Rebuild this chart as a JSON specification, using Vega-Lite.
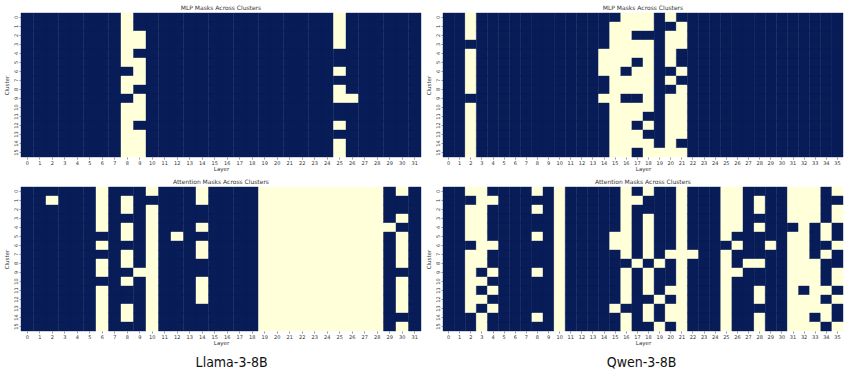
{
"$schema": "https://vega.github.io/schema/vega-lite/v6.json",
"background": "white",
"padding": {"left": 4, "top": 4, "right": 0, "bottom": 0},
"config": {
"view": {"stroke": null},
"font": "DejaVu Sans",
"axis": {"domain": false, "labelFontSize": 5, "titleFontSize": 5.5, "labelColor": "#333333", "titleColor": "#333333", "tickColor": "#333333", "tickSize": 2, "tickWidth": 0.5, "labelPadding": 1, "titleFontWeight": "normal", "labelOverlap": false, "minExtent": 0},
"axisX": {"labelAngle": 0, "titlePadding": 1, "maxExtent": 9},
"axisY": {"labelAngle": 270, "titlePadding": 4, "maxExtent": 8},
"title": {"fontSize": 6, "fontWeight": "normal", "color": "#333333", "offset": 2, "frame": "group", "anchor": "middle"}
},
"datasets": {
"lm": [
{"l":0,"c":0,"v":0},{"l":0,"c":1,"v":0},{"l":0,"c":2,"v":0},{"l":0,"c":3,"v":0},{"l":0,"c":4,"v":0},{"l":0,"c":5,"v":0},{"l":0,"c":6,"v":0},{"l":0,"c":7,"v":0},{"l":0,"c":8,"v":0},{"l":0,"c":9,"v":0},{"l":0,"c":10,"v":0},{"l":0,"c":11,"v":0},{"l":0,"c":12,"v":0},{"l":0,"c":13,"v":0},{"l":0,"c":14,"v":0},{"l":0,"c":15,"v":0},
{"l":1,"c":0,"v":0},{"l":1,"c":1,"v":0},{"l":1,"c":2,"v":0},{"l":1,"c":3,"v":0},{"l":1,"c":4,"v":0},{"l":1,"c":5,"v":0},{"l":1,"c":6,"v":0},{"l":1,"c":7,"v":0},{"l":1,"c":8,"v":0},{"l":1,"c":9,"v":0},{"l":1,"c":10,"v":0},{"l":1,"c":11,"v":0},{"l":1,"c":12,"v":0},{"l":1,"c":13,"v":0},{"l":1,"c":14,"v":0},{"l":1,"c":15,"v":0},
{"l":2,"c":0,"v":0},{"l":2,"c":1,"v":0},{"l":2,"c":2,"v":0},{"l":2,"c":3,"v":0},{"l":2,"c":4,"v":0},{"l":2,"c":5,"v":0},{"l":2,"c":6,"v":0},{"l":2,"c":7,"v":0},{"l":2,"c":8,"v":0},{"l":2,"c":9,"v":0},{"l":2,"c":10,"v":0},{"l":2,"c":11,"v":0},{"l":2,"c":12,"v":0},{"l":2,"c":13,"v":0},{"l":2,"c":14,"v":0},{"l":2,"c":15,"v":0},
{"l":3,"c":0,"v":0},{"l":3,"c":1,"v":0},{"l":3,"c":2,"v":0},{"l":3,"c":3,"v":0},{"l":3,"c":4,"v":0},{"l":3,"c":5,"v":0},{"l":3,"c":6,"v":0},{"l":3,"c":7,"v":0},{"l":3,"c":8,"v":0},{"l":3,"c":9,"v":0},{"l":3,"c":10,"v":0},{"l":3,"c":11,"v":0},{"l":3,"c":12,"v":0},{"l":3,"c":13,"v":0},{"l":3,"c":14,"v":0},{"l":3,"c":15,"v":0},
{"l":4,"c":0,"v":0},{"l":4,"c":1,"v":0},{"l":4,"c":2,"v":0},{"l":4,"c":3,"v":0},{"l":4,"c":4,"v":0},{"l":4,"c":5,"v":0},{"l":4,"c":6,"v":0},{"l":4,"c":7,"v":0},{"l":4,"c":8,"v":0},{"l":4,"c":9,"v":0},{"l":4,"c":10,"v":0},{"l":4,"c":11,"v":0},{"l":4,"c":12,"v":0},{"l":4,"c":13,"v":0},{"l":4,"c":14,"v":0},{"l":4,"c":15,"v":0},
{"l":5,"c":0,"v":0},{"l":5,"c":1,"v":0},{"l":5,"c":2,"v":0},{"l":5,"c":3,"v":0},{"l":5,"c":4,"v":0},{"l":5,"c":5,"v":0},{"l":5,"c":6,"v":0},{"l":5,"c":7,"v":0},{"l":5,"c":8,"v":0},{"l":5,"c":9,"v":0},{"l":5,"c":10,"v":0},{"l":5,"c":11,"v":0},{"l":5,"c":12,"v":0},{"l":5,"c":13,"v":0},{"l":5,"c":14,"v":0},{"l":5,"c":15,"v":0},
{"l":6,"c":0,"v":0},{"l":6,"c":1,"v":0},{"l":6,"c":2,"v":0},{"l":6,"c":3,"v":0},{"l":6,"c":4,"v":0},{"l":6,"c":5,"v":0},{"l":6,"c":6,"v":0},{"l":6,"c":7,"v":0},{"l":6,"c":8,"v":0},{"l":6,"c":9,"v":0},{"l":6,"c":10,"v":0},{"l":6,"c":11,"v":0},{"l":6,"c":12,"v":0},{"l":6,"c":13,"v":0},{"l":6,"c":14,"v":0},{"l":6,"c":15,"v":0},
{"l":7,"c":0,"v":0},{"l":7,"c":1,"v":0},{"l":7,"c":2,"v":0},{"l":7,"c":3,"v":0},{"l":7,"c":4,"v":0},{"l":7,"c":5,"v":0},{"l":7,"c":6,"v":0},{"l":7,"c":7,"v":0},{"l":7,"c":8,"v":0},{"l":7,"c":9,"v":0},{"l":7,"c":10,"v":0},{"l":7,"c":11,"v":0},{"l":7,"c":12,"v":0},{"l":7,"c":13,"v":0},{"l":7,"c":14,"v":0},{"l":7,"c":15,"v":0},
{"l":8,"c":0,"v":1},{"l":8,"c":1,"v":1},{"l":8,"c":2,"v":1},{"l":8,"c":3,"v":1},{"l":8,"c":4,"v":1},{"l":8,"c":5,"v":1},{"l":8,"c":6,"v":0},{"l":8,"c":7,"v":1},{"l":8,"c":8,"v":1},{"l":8,"c":9,"v":0},{"l":8,"c":10,"v":1},{"l":8,"c":11,"v":1},{"l":8,"c":12,"v":1},{"l":8,"c":13,"v":1},{"l":8,"c":14,"v":1},{"l":8,"c":15,"v":1},
{"l":9,"c":0,"v":0},{"l":9,"c":1,"v":0},{"l":9,"c":2,"v":1},{"l":9,"c":3,"v":1},{"l":9,"c":4,"v":0},{"l":9,"c":5,"v":1},{"l":9,"c":6,"v":1},{"l":9,"c":7,"v":1},{"l":9,"c":8,"v":0},{"l":9,"c":9,"v":1},{"l":9,"c":10,"v":1},{"l":9,"c":11,"v":1},{"l":9,"c":12,"v":0},{"l":9,"c":13,"v":1},{"l":9,"c":14,"v":1},{"l":9,"c":15,"v":1},
{"l":10,"c":0,"v":0},{"l":10,"c":1,"v":0},{"l":10,"c":2,"v":0},{"l":10,"c":3,"v":0},{"l":10,"c":4,"v":0},{"l":10,"c":5,"v":0},{"l":10,"c":6,"v":0},{"l":10,"c":7,"v":0},{"l":10,"c":8,"v":0},{"l":10,"c":9,"v":0},{"l":10,"c":10,"v":0},{"l":10,"c":11,"v":0},{"l":10,"c":12,"v":0},{"l":10,"c":13,"v":0},{"l":10,"c":14,"v":0},{"l":10,"c":15,"v":0},
{"l":11,"c":0,"v":0},{"l":11,"c":1,"v":0},{"l":11,"c":2,"v":0},{"l":11,"c":3,"v":0},{"l":11,"c":4,"v":0},{"l":11,"c":5,"v":0},{"l":11,"c":6,"v":0},{"l":11,"c":7,"v":0},{"l":11,"c":8,"v":0},{"l":11,"c":9,"v":0},{"l":11,"c":10,"v":0},{"l":11,"c":11,"v":0},{"l":11,"c":12,"v":0},{"l":11,"c":13,"v":0},{"l":11,"c":14,"v":0},{"l":11,"c":15,"v":0},
{"l":12,"c":0,"v":0},{"l":12,"c":1,"v":0},{"l":12,"c":2,"v":0},{"l":12,"c":3,"v":0},{"l":12,"c":4,"v":0},{"l":12,"c":5,"v":0},{"l":12,"c":6,"v":0},{"l":12,"c":7,"v":0},{"l":12,"c":8,"v":0},{"l":12,"c":9,"v":0},{"l":12,"c":10,"v":0},{"l":12,"c":11,"v":0},{"l":12,"c":12,"v":0},{"l":12,"c":13,"v":0},{"l":12,"c":14,"v":0},{"l":12,"c":15,"v":0},
{"l":13,"c":0,"v":0},{"l":13,"c":1,"v":0},{"l":13,"c":2,"v":0},{"l":13,"c":3,"v":0},{"l":13,"c":4,"v":0},{"l":13,"c":5,"v":0},{"l":13,"c":6,"v":0},{"l":13,"c":7,"v":0},{"l":13,"c":8,"v":0},{"l":13,"c":9,"v":0},{"l":13,"c":10,"v":0},{"l":13,"c":11,"v":0},{"l":13,"c":12,"v":0},{"l":13,"c":13,"v":0},{"l":13,"c":14,"v":0},{"l":13,"c":15,"v":0},
{"l":14,"c":0,"v":0},{"l":14,"c":1,"v":0},{"l":14,"c":2,"v":0},{"l":14,"c":3,"v":0},{"l":14,"c":4,"v":0},{"l":14,"c":5,"v":0},{"l":14,"c":6,"v":0},{"l":14,"c":7,"v":0},{"l":14,"c":8,"v":0},{"l":14,"c":9,"v":0},{"l":14,"c":10,"v":0},{"l":14,"c":11,"v":0},{"l":14,"c":12,"v":0},{"l":14,"c":13,"v":0},{"l":14,"c":14,"v":0},{"l":14,"c":15,"v":0},
{"l":15,"c":0,"v":0},{"l":15,"c":1,"v":0},{"l":15,"c":2,"v":0},{"l":15,"c":3,"v":0},{"l":15,"c":4,"v":0},{"l":15,"c":5,"v":0},{"l":15,"c":6,"v":0},{"l":15,"c":7,"v":0},{"l":15,"c":8,"v":0},{"l":15,"c":9,"v":0},{"l":15,"c":10,"v":0},{"l":15,"c":11,"v":0},{"l":15,"c":12,"v":0},{"l":15,"c":13,"v":0},{"l":15,"c":14,"v":0},{"l":15,"c":15,"v":0},
{"l":16,"c":0,"v":0},{"l":16,"c":1,"v":0},{"l":16,"c":2,"v":0},{"l":16,"c":3,"v":0},{"l":16,"c":4,"v":0},{"l":16,"c":5,"v":0},{"l":16,"c":6,"v":0},{"l":16,"c":7,"v":0},{"l":16,"c":8,"v":0},{"l":16,"c":9,"v":0},{"l":16,"c":10,"v":0},{"l":16,"c":11,"v":0},{"l":16,"c":12,"v":0},{"l":16,"c":13,"v":0},{"l":16,"c":14,"v":0},{"l":16,"c":15,"v":0},
{"l":17,"c":0,"v":0},{"l":17,"c":1,"v":0},{"l":17,"c":2,"v":0},{"l":17,"c":3,"v":0},{"l":17,"c":4,"v":0},{"l":17,"c":5,"v":0},{"l":17,"c":6,"v":0},{"l":17,"c":7,"v":0},{"l":17,"c":8,"v":0},{"l":17,"c":9,"v":0},{"l":17,"c":10,"v":0},{"l":17,"c":11,"v":0},{"l":17,"c":12,"v":0},{"l":17,"c":13,"v":0},{"l":17,"c":14,"v":0},{"l":17,"c":15,"v":0},
{"l":18,"c":0,"v":0},{"l":18,"c":1,"v":0},{"l":18,"c":2,"v":0},{"l":18,"c":3,"v":0},{"l":18,"c":4,"v":0},{"l":18,"c":5,"v":0},{"l":18,"c":6,"v":0},{"l":18,"c":7,"v":0},{"l":18,"c":8,"v":0},{"l":18,"c":9,"v":0},{"l":18,"c":10,"v":0},{"l":18,"c":11,"v":0},{"l":18,"c":12,"v":0},{"l":18,"c":13,"v":0},{"l":18,"c":14,"v":0},{"l":18,"c":15,"v":0},
{"l":19,"c":0,"v":0},{"l":19,"c":1,"v":0},{"l":19,"c":2,"v":0},{"l":19,"c":3,"v":0},{"l":19,"c":4,"v":0},{"l":19,"c":5,"v":0},{"l":19,"c":6,"v":0},{"l":19,"c":7,"v":0},{"l":19,"c":8,"v":0},{"l":19,"c":9,"v":0},{"l":19,"c":10,"v":0},{"l":19,"c":11,"v":0},{"l":19,"c":12,"v":0},{"l":19,"c":13,"v":0},{"l":19,"c":14,"v":0},{"l":19,"c":15,"v":0},
{"l":20,"c":0,"v":0},{"l":20,"c":1,"v":0},{"l":20,"c":2,"v":0},{"l":20,"c":3,"v":0},{"l":20,"c":4,"v":0},{"l":20,"c":5,"v":0},{"l":20,"c":6,"v":0},{"l":20,"c":7,"v":0},{"l":20,"c":8,"v":0},{"l":20,"c":9,"v":0},{"l":20,"c":10,"v":0},{"l":20,"c":11,"v":0},{"l":20,"c":12,"v":0},{"l":20,"c":13,"v":0},{"l":20,"c":14,"v":0},{"l":20,"c":15,"v":0},
{"l":21,"c":0,"v":0},{"l":21,"c":1,"v":0},{"l":21,"c":2,"v":0},{"l":21,"c":3,"v":0},{"l":21,"c":4,"v":0},{"l":21,"c":5,"v":0},{"l":21,"c":6,"v":0},{"l":21,"c":7,"v":0},{"l":21,"c":8,"v":0},{"l":21,"c":9,"v":0},{"l":21,"c":10,"v":0},{"l":21,"c":11,"v":0},{"l":21,"c":12,"v":0},{"l":21,"c":13,"v":0},{"l":21,"c":14,"v":0},{"l":21,"c":15,"v":0},
{"l":22,"c":0,"v":0},{"l":22,"c":1,"v":0},{"l":22,"c":2,"v":0},{"l":22,"c":3,"v":0},{"l":22,"c":4,"v":0},{"l":22,"c":5,"v":0},{"l":22,"c":6,"v":0},{"l":22,"c":7,"v":0},{"l":22,"c":8,"v":0},{"l":22,"c":9,"v":0},{"l":22,"c":10,"v":0},{"l":22,"c":11,"v":0},{"l":22,"c":12,"v":0},{"l":22,"c":13,"v":0},{"l":22,"c":14,"v":0},{"l":22,"c":15,"v":0},
{"l":23,"c":0,"v":0},{"l":23,"c":1,"v":0},{"l":23,"c":2,"v":0},{"l":23,"c":3,"v":0},{"l":23,"c":4,"v":0},{"l":23,"c":5,"v":0},{"l":23,"c":6,"v":0},{"l":23,"c":7,"v":0},{"l":23,"c":8,"v":0},{"l":23,"c":9,"v":0},{"l":23,"c":10,"v":0},{"l":23,"c":11,"v":0},{"l":23,"c":12,"v":0},{"l":23,"c":13,"v":0},{"l":23,"c":14,"v":0},{"l":23,"c":15,"v":0},
{"l":24,"c":0,"v":0},{"l":24,"c":1,"v":0},{"l":24,"c":2,"v":0},{"l":24,"c":3,"v":0},{"l":24,"c":4,"v":0},{"l":24,"c":5,"v":0},{"l":24,"c":6,"v":0},{"l":24,"c":7,"v":0},{"l":24,"c":8,"v":0},{"l":24,"c":9,"v":0},{"l":24,"c":10,"v":0},{"l":24,"c":11,"v":0},{"l":24,"c":12,"v":0},{"l":24,"c":13,"v":0},{"l":24,"c":14,"v":0},{"l":24,"c":15,"v":0},
{"l":25,"c":0,"v":1},{"l":25,"c":1,"v":1},{"l":25,"c":2,"v":1},{"l":25,"c":3,"v":1},{"l":25,"c":4,"v":0},{"l":25,"c":5,"v":0},{"l":25,"c":6,"v":1},{"l":25,"c":7,"v":0},{"l":25,"c":8,"v":1},{"l":25,"c":9,"v":1},{"l":25,"c":10,"v":0},{"l":25,"c":11,"v":0},{"l":25,"c":12,"v":1},{"l":25,"c":13,"v":0},{"l":25,"c":14,"v":1},{"l":25,"c":15,"v":1},
{"l":26,"c":0,"v":0},{"l":26,"c":1,"v":0},{"l":26,"c":2,"v":0},{"l":26,"c":3,"v":0},{"l":26,"c":4,"v":0},{"l":26,"c":5,"v":0},{"l":26,"c":6,"v":0},{"l":26,"c":7,"v":0},{"l":26,"c":8,"v":0},{"l":26,"c":9,"v":1},{"l":26,"c":10,"v":0},{"l":26,"c":11,"v":0},{"l":26,"c":12,"v":0},{"l":26,"c":13,"v":0},{"l":26,"c":14,"v":0},{"l":26,"c":15,"v":0},
{"l":27,"c":0,"v":0},{"l":27,"c":1,"v":0},{"l":27,"c":2,"v":0},{"l":27,"c":3,"v":0},{"l":27,"c":4,"v":0},{"l":27,"c":5,"v":0},{"l":27,"c":6,"v":0},{"l":27,"c":7,"v":0},{"l":27,"c":8,"v":0},{"l":27,"c":9,"v":0},{"l":27,"c":10,"v":0},{"l":27,"c":11,"v":0},{"l":27,"c":12,"v":0},{"l":27,"c":13,"v":0},{"l":27,"c":14,"v":0},{"l":27,"c":15,"v":0},
{"l":28,"c":0,"v":0},{"l":28,"c":1,"v":0},{"l":28,"c":2,"v":0},{"l":28,"c":3,"v":0},{"l":28,"c":4,"v":0},{"l":28,"c":5,"v":0},{"l":28,"c":6,"v":0},{"l":28,"c":7,"v":0},{"l":28,"c":8,"v":0},{"l":28,"c":9,"v":0},{"l":28,"c":10,"v":0},{"l":28,"c":11,"v":0},{"l":28,"c":12,"v":0},{"l":28,"c":13,"v":0},{"l":28,"c":14,"v":0},{"l":28,"c":15,"v":0},
{"l":29,"c":0,"v":0},{"l":29,"c":1,"v":0},{"l":29,"c":2,"v":0},{"l":29,"c":3,"v":0},{"l":29,"c":4,"v":0},{"l":29,"c":5,"v":0},{"l":29,"c":6,"v":0},{"l":29,"c":7,"v":0},{"l":29,"c":8,"v":0},{"l":29,"c":9,"v":0},{"l":29,"c":10,"v":0},{"l":29,"c":11,"v":0},{"l":29,"c":12,"v":0},{"l":29,"c":13,"v":0},{"l":29,"c":14,"v":0},{"l":29,"c":15,"v":0},
{"l":30,"c":0,"v":0},{"l":30,"c":1,"v":0},{"l":30,"c":2,"v":0},{"l":30,"c":3,"v":0},{"l":30,"c":4,"v":0},{"l":30,"c":5,"v":0},{"l":30,"c":6,"v":0},{"l":30,"c":7,"v":0},{"l":30,"c":8,"v":0},{"l":30,"c":9,"v":0},{"l":30,"c":10,"v":0},{"l":30,"c":11,"v":0},{"l":30,"c":12,"v":0},{"l":30,"c":13,"v":0},{"l":30,"c":14,"v":0},{"l":30,"c":15,"v":0},
{"l":31,"c":0,"v":0},{"l":31,"c":1,"v":0},{"l":31,"c":2,"v":0},{"l":31,"c":3,"v":0},{"l":31,"c":4,"v":0},{"l":31,"c":5,"v":0},{"l":31,"c":6,"v":0},{"l":31,"c":7,"v":0},{"l":31,"c":8,"v":0},{"l":31,"c":9,"v":0},{"l":31,"c":10,"v":0},{"l":31,"c":11,"v":0},{"l":31,"c":12,"v":0},{"l":31,"c":13,"v":0},{"l":31,"c":14,"v":0},{"l":31,"c":15,"v":0}
],
"la": [
{"l":0,"c":0,"v":0},{"l":0,"c":1,"v":0},{"l":0,"c":2,"v":0},{"l":0,"c":3,"v":0},{"l":0,"c":4,"v":0},{"l":0,"c":5,"v":0},{"l":0,"c":6,"v":0},{"l":0,"c":7,"v":0},{"l":0,"c":8,"v":0},{"l":0,"c":9,"v":0},{"l":0,"c":10,"v":0},{"l":0,"c":11,"v":0},{"l":0,"c":12,"v":0},{"l":0,"c":13,"v":0},{"l":0,"c":14,"v":0},{"l":0,"c":15,"v":0},
{"l":1,"c":0,"v":0},{"l":1,"c":1,"v":0},{"l":1,"c":2,"v":0},{"l":1,"c":3,"v":0},{"l":1,"c":4,"v":0},{"l":1,"c":5,"v":0},{"l":1,"c":6,"v":0},{"l":1,"c":7,"v":0},{"l":1,"c":8,"v":0},{"l":1,"c":9,"v":0},{"l":1,"c":10,"v":0},{"l":1,"c":11,"v":0},{"l":1,"c":12,"v":0},{"l":1,"c":13,"v":0},{"l":1,"c":14,"v":0},{"l":1,"c":15,"v":0},
{"l":2,"c":0,"v":0},{"l":2,"c":1,"v":1},{"l":2,"c":2,"v":0},{"l":2,"c":3,"v":0},{"l":2,"c":4,"v":0},{"l":2,"c":5,"v":0},{"l":2,"c":6,"v":0},{"l":2,"c":7,"v":0},{"l":2,"c":8,"v":0},{"l":2,"c":9,"v":0},{"l":2,"c":10,"v":0},{"l":2,"c":11,"v":0},{"l":2,"c":12,"v":0},{"l":2,"c":13,"v":0},{"l":2,"c":14,"v":0},{"l":2,"c":15,"v":0},
{"l":3,"c":0,"v":0},{"l":3,"c":1,"v":0},{"l":3,"c":2,"v":0},{"l":3,"c":3,"v":0},{"l":3,"c":4,"v":0},{"l":3,"c":5,"v":0},{"l":3,"c":6,"v":0},{"l":3,"c":7,"v":0},{"l":3,"c":8,"v":0},{"l":3,"c":9,"v":0},{"l":3,"c":10,"v":0},{"l":3,"c":11,"v":0},{"l":3,"c":12,"v":0},{"l":3,"c":13,"v":0},{"l":3,"c":14,"v":0},{"l":3,"c":15,"v":0},
{"l":4,"c":0,"v":0},{"l":4,"c":1,"v":0},{"l":4,"c":2,"v":0},{"l":4,"c":3,"v":0},{"l":4,"c":4,"v":0},{"l":4,"c":5,"v":0},{"l":4,"c":6,"v":0},{"l":4,"c":7,"v":0},{"l":4,"c":8,"v":0},{"l":4,"c":9,"v":0},{"l":4,"c":10,"v":0},{"l":4,"c":11,"v":0},{"l":4,"c":12,"v":0},{"l":4,"c":13,"v":0},{"l":4,"c":14,"v":0},{"l":4,"c":15,"v":0},
{"l":5,"c":0,"v":0},{"l":5,"c":1,"v":0},{"l":5,"c":2,"v":0},{"l":5,"c":3,"v":0},{"l":5,"c":4,"v":0},{"l":5,"c":5,"v":0},{"l":5,"c":6,"v":0},{"l":5,"c":7,"v":0},{"l":5,"c":8,"v":0},{"l":5,"c":9,"v":0},{"l":5,"c":10,"v":0},{"l":5,"c":11,"v":0},{"l":5,"c":12,"v":0},{"l":5,"c":13,"v":0},{"l":5,"c":14,"v":0},{"l":5,"c":15,"v":0},
{"l":6,"c":0,"v":1},{"l":6,"c":1,"v":1},{"l":6,"c":2,"v":1},{"l":6,"c":3,"v":1},{"l":6,"c":4,"v":1},{"l":6,"c":5,"v":0},{"l":6,"c":6,"v":1},{"l":6,"c":7,"v":0},{"l":6,"c":8,"v":1},{"l":6,"c":9,"v":1},{"l":6,"c":10,"v":0},{"l":6,"c":11,"v":1},{"l":6,"c":12,"v":1},{"l":6,"c":13,"v":1},{"l":6,"c":14,"v":1},{"l":6,"c":15,"v":1},
{"l":7,"c":0,"v":0},{"l":7,"c":1,"v":0},{"l":7,"c":2,"v":0},{"l":7,"c":3,"v":0},{"l":7,"c":4,"v":0},{"l":7,"c":5,"v":0},{"l":7,"c":6,"v":0},{"l":7,"c":7,"v":0},{"l":7,"c":8,"v":0},{"l":7,"c":9,"v":0},{"l":7,"c":10,"v":0},{"l":7,"c":11,"v":0},{"l":7,"c":12,"v":0},{"l":7,"c":13,"v":0},{"l":7,"c":14,"v":0},{"l":7,"c":15,"v":0},
{"l":8,"c":0,"v":0},{"l":8,"c":1,"v":1},{"l":8,"c":2,"v":1},{"l":8,"c":3,"v":0},{"l":8,"c":4,"v":1},{"l":8,"c":5,"v":1},{"l":8,"c":6,"v":0},{"l":8,"c":7,"v":1},{"l":8,"c":8,"v":1},{"l":8,"c":9,"v":0},{"l":8,"c":10,"v":1},{"l":8,"c":11,"v":0},{"l":8,"c":12,"v":0},{"l":8,"c":13,"v":1},{"l":8,"c":14,"v":1},{"l":8,"c":15,"v":0},
{"l":9,"c":0,"v":0},{"l":9,"c":1,"v":0},{"l":9,"c":2,"v":0},{"l":9,"c":3,"v":0},{"l":9,"c":4,"v":0},{"l":9,"c":5,"v":0},{"l":9,"c":6,"v":0},{"l":9,"c":7,"v":0},{"l":9,"c":8,"v":0},{"l":9,"c":9,"v":1},{"l":9,"c":10,"v":0},{"l":9,"c":11,"v":0},{"l":9,"c":12,"v":0},{"l":9,"c":13,"v":0},{"l":9,"c":14,"v":0},{"l":9,"c":15,"v":0},
{"l":10,"c":0,"v":1},{"l":10,"c":1,"v":0},{"l":10,"c":2,"v":1},{"l":10,"c":3,"v":1},{"l":10,"c":4,"v":1},{"l":10,"c":5,"v":1},{"l":10,"c":6,"v":1},{"l":10,"c":7,"v":1},{"l":10,"c":8,"v":1},{"l":10,"c":9,"v":1},{"l":10,"c":10,"v":1},{"l":10,"c":11,"v":1},{"l":10,"c":12,"v":1},{"l":10,"c":13,"v":1},{"l":10,"c":14,"v":1},{"l":10,"c":15,"v":1},
{"l":11,"c":0,"v":0},{"l":11,"c":1,"v":0},{"l":11,"c":2,"v":0},{"l":11,"c":3,"v":0},{"l":11,"c":4,"v":0},{"l":11,"c":5,"v":0},{"l":11,"c":6,"v":0},{"l":11,"c":7,"v":0},{"l":11,"c":8,"v":0},{"l":11,"c":9,"v":0},{"l":11,"c":10,"v":0},{"l":11,"c":11,"v":0},{"l":11,"c":12,"v":0},{"l":11,"c":13,"v":0},{"l":11,"c":14,"v":0},{"l":11,"c":15,"v":0},
{"l":12,"c":0,"v":0},{"l":12,"c":1,"v":0},{"l":12,"c":2,"v":0},{"l":12,"c":3,"v":0},{"l":12,"c":4,"v":0},{"l":12,"c":5,"v":1},{"l":12,"c":6,"v":0},{"l":12,"c":7,"v":0},{"l":12,"c":8,"v":0},{"l":12,"c":9,"v":0},{"l":12,"c":10,"v":0},{"l":12,"c":11,"v":0},{"l":12,"c":12,"v":0},{"l":12,"c":13,"v":0},{"l":12,"c":14,"v":0},{"l":12,"c":15,"v":0},
{"l":13,"c":0,"v":0},{"l":13,"c":1,"v":0},{"l":13,"c":2,"v":0},{"l":13,"c":3,"v":0},{"l":13,"c":4,"v":0},{"l":13,"c":5,"v":0},{"l":13,"c":6,"v":0},{"l":13,"c":7,"v":0},{"l":13,"c":8,"v":0},{"l":13,"c":9,"v":0},{"l":13,"c":10,"v":0},{"l":13,"c":11,"v":0},{"l":13,"c":12,"v":0},{"l":13,"c":13,"v":0},{"l":13,"c":14,"v":0},{"l":13,"c":15,"v":0},
{"l":14,"c":0,"v":1},{"l":14,"c":1,"v":1},{"l":14,"c":2,"v":0},{"l":14,"c":3,"v":0},{"l":14,"c":4,"v":1},{"l":14,"c":5,"v":0},{"l":14,"c":6,"v":1},{"l":14,"c":7,"v":1},{"l":14,"c":8,"v":0},{"l":14,"c":9,"v":0},{"l":14,"c":10,"v":1},{"l":14,"c":11,"v":1},{"l":14,"c":12,"v":1},{"l":14,"c":13,"v":0},{"l":14,"c":14,"v":0},{"l":14,"c":15,"v":0},
{"l":15,"c":0,"v":0},{"l":15,"c":1,"v":0},{"l":15,"c":2,"v":0},{"l":15,"c":3,"v":0},{"l":15,"c":4,"v":0},{"l":15,"c":5,"v":0},{"l":15,"c":6,"v":0},{"l":15,"c":7,"v":0},{"l":15,"c":8,"v":0},{"l":15,"c":9,"v":0},{"l":15,"c":10,"v":0},{"l":15,"c":11,"v":0},{"l":15,"c":12,"v":0},{"l":15,"c":13,"v":0},{"l":15,"c":14,"v":0},{"l":15,"c":15,"v":0},
{"l":16,"c":0,"v":0},{"l":16,"c":1,"v":0},{"l":16,"c":2,"v":0},{"l":16,"c":3,"v":0},{"l":16,"c":4,"v":0},{"l":16,"c":5,"v":0},{"l":16,"c":6,"v":0},{"l":16,"c":7,"v":0},{"l":16,"c":8,"v":0},{"l":16,"c":9,"v":0},{"l":16,"c":10,"v":0},{"l":16,"c":11,"v":0},{"l":16,"c":12,"v":0},{"l":16,"c":13,"v":0},{"l":16,"c":14,"v":0},{"l":16,"c":15,"v":0},
{"l":17,"c":0,"v":0},{"l":17,"c":1,"v":0},{"l":17,"c":2,"v":0},{"l":17,"c":3,"v":0},{"l":17,"c":4,"v":0},{"l":17,"c":5,"v":0},{"l":17,"c":6,"v":0},{"l":17,"c":7,"v":0},{"l":17,"c":8,"v":0},{"l":17,"c":9,"v":0},{"l":17,"c":10,"v":0},{"l":17,"c":11,"v":0},{"l":17,"c":12,"v":0},{"l":17,"c":13,"v":0},{"l":17,"c":14,"v":0},{"l":17,"c":15,"v":0},
{"l":18,"c":0,"v":0},{"l":18,"c":1,"v":0},{"l":18,"c":2,"v":0},{"l":18,"c":3,"v":0},{"l":18,"c":4,"v":0},{"l":18,"c":5,"v":0},{"l":18,"c":6,"v":0},{"l":18,"c":7,"v":0},{"l":18,"c":8,"v":0},{"l":18,"c":9,"v":0},{"l":18,"c":10,"v":0},{"l":18,"c":11,"v":0},{"l":18,"c":12,"v":0},{"l":18,"c":13,"v":0},{"l":18,"c":14,"v":0},{"l":18,"c":15,"v":0},
{"l":19,"c":0,"v":1},{"l":19,"c":1,"v":1},{"l":19,"c":2,"v":1},{"l":19,"c":3,"v":1},{"l":19,"c":4,"v":1},{"l":19,"c":5,"v":1},{"l":19,"c":6,"v":1},{"l":19,"c":7,"v":1},{"l":19,"c":8,"v":1},{"l":19,"c":9,"v":1},{"l":19,"c":10,"v":1},{"l":19,"c":11,"v":1},{"l":19,"c":12,"v":1},{"l":19,"c":13,"v":1},{"l":19,"c":14,"v":1},{"l":19,"c":15,"v":1},
{"l":20,"c":0,"v":1},{"l":20,"c":1,"v":1},{"l":20,"c":2,"v":1},{"l":20,"c":3,"v":1},{"l":20,"c":4,"v":1},{"l":20,"c":5,"v":1},{"l":20,"c":6,"v":1},{"l":20,"c":7,"v":1},{"l":20,"c":8,"v":1},{"l":20,"c":9,"v":1},{"l":20,"c":10,"v":1},{"l":20,"c":11,"v":1},{"l":20,"c":12,"v":1},{"l":20,"c":13,"v":1},{"l":20,"c":14,"v":1},{"l":20,"c":15,"v":1},
{"l":21,"c":0,"v":1},{"l":21,"c":1,"v":1},{"l":21,"c":2,"v":1},{"l":21,"c":3,"v":1},{"l":21,"c":4,"v":1},{"l":21,"c":5,"v":1},{"l":21,"c":6,"v":1},{"l":21,"c":7,"v":1},{"l":21,"c":8,"v":1},{"l":21,"c":9,"v":1},{"l":21,"c":10,"v":1},{"l":21,"c":11,"v":1},{"l":21,"c":12,"v":1},{"l":21,"c":13,"v":1},{"l":21,"c":14,"v":1},{"l":21,"c":15,"v":1},
{"l":22,"c":0,"v":1},{"l":22,"c":1,"v":1},{"l":22,"c":2,"v":1},{"l":22,"c":3,"v":1},{"l":22,"c":4,"v":1},{"l":22,"c":5,"v":1},{"l":22,"c":6,"v":1},{"l":22,"c":7,"v":1},{"l":22,"c":8,"v":1},{"l":22,"c":9,"v":1},{"l":22,"c":10,"v":1},{"l":22,"c":11,"v":1},{"l":22,"c":12,"v":1},{"l":22,"c":13,"v":1},{"l":22,"c":14,"v":1},{"l":22,"c":15,"v":1},
{"l":23,"c":0,"v":1},{"l":23,"c":1,"v":1},{"l":23,"c":2,"v":1},{"l":23,"c":3,"v":1},{"l":23,"c":4,"v":1},{"l":23,"c":5,"v":1},{"l":23,"c":6,"v":1},{"l":23,"c":7,"v":1},{"l":23,"c":8,"v":1},{"l":23,"c":9,"v":1},{"l":23,"c":10,"v":1},{"l":23,"c":11,"v":1},{"l":23,"c":12,"v":1},{"l":23,"c":13,"v":1},{"l":23,"c":14,"v":1},{"l":23,"c":15,"v":1},
{"l":24,"c":0,"v":1},{"l":24,"c":1,"v":1},{"l":24,"c":2,"v":1},{"l":24,"c":3,"v":1},{"l":24,"c":4,"v":1},{"l":24,"c":5,"v":1},{"l":24,"c":6,"v":1},{"l":24,"c":7,"v":1},{"l":24,"c":8,"v":1},{"l":24,"c":9,"v":1},{"l":24,"c":10,"v":1},{"l":24,"c":11,"v":1},{"l":24,"c":12,"v":1},{"l":24,"c":13,"v":1},{"l":24,"c":14,"v":1},{"l":24,"c":15,"v":1},
{"l":25,"c":0,"v":1},{"l":25,"c":1,"v":1},{"l":25,"c":2,"v":1},{"l":25,"c":3,"v":1},{"l":25,"c":4,"v":1},{"l":25,"c":5,"v":1},{"l":25,"c":6,"v":1},{"l":25,"c":7,"v":1},{"l":25,"c":8,"v":1},{"l":25,"c":9,"v":1},{"l":25,"c":10,"v":1},{"l":25,"c":11,"v":1},{"l":25,"c":12,"v":1},{"l":25,"c":13,"v":1},{"l":25,"c":14,"v":1},{"l":25,"c":15,"v":1},
{"l":26,"c":0,"v":1},{"l":26,"c":1,"v":1},{"l":26,"c":2,"v":1},{"l":26,"c":3,"v":1},{"l":26,"c":4,"v":1},{"l":26,"c":5,"v":1},{"l":26,"c":6,"v":1},{"l":26,"c":7,"v":1},{"l":26,"c":8,"v":1},{"l":26,"c":9,"v":1},{"l":26,"c":10,"v":1},{"l":26,"c":11,"v":1},{"l":26,"c":12,"v":1},{"l":26,"c":13,"v":1},{"l":26,"c":14,"v":1},{"l":26,"c":15,"v":1},
{"l":27,"c":0,"v":1},{"l":27,"c":1,"v":1},{"l":27,"c":2,"v":1},{"l":27,"c":3,"v":1},{"l":27,"c":4,"v":1},{"l":27,"c":5,"v":1},{"l":27,"c":6,"v":1},{"l":27,"c":7,"v":1},{"l":27,"c":8,"v":1},{"l":27,"c":9,"v":1},{"l":27,"c":10,"v":1},{"l":27,"c":11,"v":1},{"l":27,"c":12,"v":1},{"l":27,"c":13,"v":1},{"l":27,"c":14,"v":1},{"l":27,"c":15,"v":1},
{"l":28,"c":0,"v":1},{"l":28,"c":1,"v":1},{"l":28,"c":2,"v":1},{"l":28,"c":3,"v":1},{"l":28,"c":4,"v":1},{"l":28,"c":5,"v":1},{"l":28,"c":6,"v":1},{"l":28,"c":7,"v":1},{"l":28,"c":8,"v":1},{"l":28,"c":9,"v":1},{"l":28,"c":10,"v":1},{"l":28,"c":11,"v":1},{"l":28,"c":12,"v":1},{"l":28,"c":13,"v":1},{"l":28,"c":14,"v":1},{"l":28,"c":15,"v":1},
{"l":29,"c":0,"v":0},{"l":29,"c":1,"v":0},{"l":29,"c":2,"v":0},{"l":29,"c":3,"v":0},{"l":29,"c":4,"v":1},{"l":29,"c":5,"v":0},{"l":29,"c":6,"v":0},{"l":29,"c":7,"v":0},{"l":29,"c":8,"v":0},{"l":29,"c":9,"v":0},{"l":29,"c":10,"v":0},{"l":29,"c":11,"v":0},{"l":29,"c":12,"v":0},{"l":29,"c":13,"v":0},{"l":29,"c":14,"v":0},{"l":29,"c":15,"v":0},
{"l":30,"c":0,"v":1},{"l":30,"c":1,"v":0},{"l":30,"c":2,"v":0},{"l":30,"c":3,"v":1},{"l":30,"c":4,"v":0},{"l":30,"c":5,"v":1},{"l":30,"c":6,"v":1},{"l":30,"c":7,"v":1},{"l":30,"c":8,"v":1},{"l":30,"c":9,"v":0},{"l":30,"c":10,"v":1},{"l":30,"c":11,"v":1},{"l":30,"c":12,"v":1},{"l":30,"c":13,"v":1},{"l":30,"c":14,"v":0},{"l":30,"c":15,"v":1},
{"l":31,"c":0,"v":0},{"l":31,"c":1,"v":0},{"l":31,"c":2,"v":0},{"l":31,"c":3,"v":0},{"l":31,"c":4,"v":0},{"l":31,"c":5,"v":0},{"l":31,"c":6,"v":0},{"l":31,"c":7,"v":0},{"l":31,"c":8,"v":0},{"l":31,"c":9,"v":0},{"l":31,"c":10,"v":0},{"l":31,"c":11,"v":0},{"l":31,"c":12,"v":0},{"l":31,"c":13,"v":0},{"l":31,"c":14,"v":0},{"l":31,"c":15,"v":0}
],
"qm": [
{"l":0,"c":0,"v":0},{"l":0,"c":1,"v":0},{"l":0,"c":2,"v":0},{"l":0,"c":3,"v":0},{"l":0,"c":4,"v":0},{"l":0,"c":5,"v":0},{"l":0,"c":6,"v":0},{"l":0,"c":7,"v":0},{"l":0,"c":8,"v":0},{"l":0,"c":9,"v":0},{"l":0,"c":10,"v":0},{"l":0,"c":11,"v":0},{"l":0,"c":12,"v":0},{"l":0,"c":13,"v":0},{"l":0,"c":14,"v":0},{"l":0,"c":15,"v":0},
{"l":1,"c":0,"v":0},{"l":1,"c":1,"v":0},{"l":1,"c":2,"v":0},{"l":1,"c":3,"v":0},{"l":1,"c":4,"v":0},{"l":1,"c":5,"v":0},{"l":1,"c":6,"v":0},{"l":1,"c":7,"v":0},{"l":1,"c":8,"v":0},{"l":1,"c":9,"v":0},{"l":1,"c":10,"v":0},{"l":1,"c":11,"v":0},{"l":1,"c":12,"v":0},{"l":1,"c":13,"v":0},{"l":1,"c":14,"v":0},{"l":1,"c":15,"v":0},
{"l":2,"c":0,"v":1},{"l":2,"c":1,"v":1},{"l":2,"c":2,"v":1},{"l":2,"c":3,"v":0},{"l":2,"c":4,"v":1},{"l":2,"c":5,"v":1},{"l":2,"c":6,"v":1},{"l":2,"c":7,"v":1},{"l":2,"c":8,"v":1},{"l":2,"c":9,"v":0},{"l":2,"c":10,"v":1},{"l":2,"c":11,"v":1},{"l":2,"c":12,"v":1},{"l":2,"c":13,"v":1},{"l":2,"c":14,"v":1},{"l":2,"c":15,"v":1},
{"l":3,"c":0,"v":0},{"l":3,"c":1,"v":0},{"l":3,"c":2,"v":0},{"l":3,"c":3,"v":0},{"l":3,"c":4,"v":0},{"l":3,"c":5,"v":0},{"l":3,"c":6,"v":0},{"l":3,"c":7,"v":0},{"l":3,"c":8,"v":0},{"l":3,"c":9,"v":0},{"l":3,"c":10,"v":0},{"l":3,"c":11,"v":0},{"l":3,"c":12,"v":0},{"l":3,"c":13,"v":0},{"l":3,"c":14,"v":0},{"l":3,"c":15,"v":0},
{"l":4,"c":0,"v":0},{"l":4,"c":1,"v":0},{"l":4,"c":2,"v":0},{"l":4,"c":3,"v":0},{"l":4,"c":4,"v":0},{"l":4,"c":5,"v":0},{"l":4,"c":6,"v":0},{"l":4,"c":7,"v":0},{"l":4,"c":8,"v":0},{"l":4,"c":9,"v":0},{"l":4,"c":10,"v":0},{"l":4,"c":11,"v":0},{"l":4,"c":12,"v":0},{"l":4,"c":13,"v":0},{"l":4,"c":14,"v":0},{"l":4,"c":15,"v":0},
{"l":5,"c":0,"v":0},{"l":5,"c":1,"v":0},{"l":5,"c":2,"v":0},{"l":5,"c":3,"v":0},{"l":5,"c":4,"v":0},{"l":5,"c":5,"v":0},{"l":5,"c":6,"v":0},{"l":5,"c":7,"v":0},{"l":5,"c":8,"v":0},{"l":5,"c":9,"v":0},{"l":5,"c":10,"v":0},{"l":5,"c":11,"v":0},{"l":5,"c":12,"v":0},{"l":5,"c":13,"v":0},{"l":5,"c":14,"v":0},{"l":5,"c":15,"v":0},
{"l":6,"c":0,"v":0},{"l":6,"c":1,"v":0},{"l":6,"c":2,"v":0},{"l":6,"c":3,"v":0},{"l":6,"c":4,"v":0},{"l":6,"c":5,"v":0},{"l":6,"c":6,"v":0},{"l":6,"c":7,"v":0},{"l":6,"c":8,"v":0},{"l":6,"c":9,"v":0},{"l":6,"c":10,"v":0},{"l":6,"c":11,"v":0},{"l":6,"c":12,"v":0},{"l":6,"c":13,"v":0},{"l":6,"c":14,"v":0},{"l":6,"c":15,"v":0},
{"l":7,"c":0,"v":0},{"l":7,"c":1,"v":0},{"l":7,"c":2,"v":0},{"l":7,"c":3,"v":0},{"l":7,"c":4,"v":0},{"l":7,"c":5,"v":0},{"l":7,"c":6,"v":0},{"l":7,"c":7,"v":0},{"l":7,"c":8,"v":0},{"l":7,"c":9,"v":0},{"l":7,"c":10,"v":0},{"l":7,"c":11,"v":0},{"l":7,"c":12,"v":0},{"l":7,"c":13,"v":0},{"l":7,"c":14,"v":0},{"l":7,"c":15,"v":0},
{"l":8,"c":0,"v":0},{"l":8,"c":1,"v":0},{"l":8,"c":2,"v":0},{"l":8,"c":3,"v":0},{"l":8,"c":4,"v":0},{"l":8,"c":5,"v":0},{"l":8,"c":6,"v":0},{"l":8,"c":7,"v":0},{"l":8,"c":8,"v":0},{"l":8,"c":9,"v":0},{"l":8,"c":10,"v":0},{"l":8,"c":11,"v":0},{"l":8,"c":12,"v":0},{"l":8,"c":13,"v":0},{"l":8,"c":14,"v":0},{"l":8,"c":15,"v":0},
{"l":9,"c":0,"v":0},{"l":9,"c":1,"v":0},{"l":9,"c":2,"v":0},{"l":9,"c":3,"v":0},{"l":9,"c":4,"v":0},{"l":9,"c":5,"v":0},{"l":9,"c":6,"v":0},{"l":9,"c":7,"v":0},{"l":9,"c":8,"v":0},{"l":9,"c":9,"v":0},{"l":9,"c":10,"v":0},{"l":9,"c":11,"v":0},{"l":9,"c":12,"v":0},{"l":9,"c":13,"v":0},{"l":9,"c":14,"v":0},{"l":9,"c":15,"v":0},
{"l":10,"c":0,"v":0},{"l":10,"c":1,"v":0},{"l":10,"c":2,"v":0},{"l":10,"c":3,"v":0},{"l":10,"c":4,"v":0},{"l":10,"c":5,"v":0},{"l":10,"c":6,"v":0},{"l":10,"c":7,"v":0},{"l":10,"c":8,"v":0},{"l":10,"c":9,"v":0},{"l":10,"c":10,"v":0},{"l":10,"c":11,"v":0},{"l":10,"c":12,"v":0},{"l":10,"c":13,"v":0},{"l":10,"c":14,"v":0},{"l":10,"c":15,"v":0},
{"l":11,"c":0,"v":0},{"l":11,"c":1,"v":0},{"l":11,"c":2,"v":0},{"l":11,"c":3,"v":0},{"l":11,"c":4,"v":0},{"l":11,"c":5,"v":0},{"l":11,"c":6,"v":0},{"l":11,"c":7,"v":0},{"l":11,"c":8,"v":0},{"l":11,"c":9,"v":0},{"l":11,"c":10,"v":0},{"l":11,"c":11,"v":0},{"l":11,"c":12,"v":0},{"l":11,"c":13,"v":0},{"l":11,"c":14,"v":0},{"l":11,"c":15,"v":0},
{"l":12,"c":0,"v":0},{"l":12,"c":1,"v":0},{"l":12,"c":2,"v":0},{"l":12,"c":3,"v":0},{"l":12,"c":4,"v":0},{"l":12,"c":5,"v":0},{"l":12,"c":6,"v":0},{"l":12,"c":7,"v":0},{"l":12,"c":8,"v":0},{"l":12,"c":9,"v":0},{"l":12,"c":10,"v":0},{"l":12,"c":11,"v":0},{"l":12,"c":12,"v":0},{"l":12,"c":13,"v":0},{"l":12,"c":14,"v":0},{"l":12,"c":15,"v":0},
{"l":13,"c":0,"v":0},{"l":13,"c":1,"v":0},{"l":13,"c":2,"v":0},{"l":13,"c":3,"v":0},{"l":13,"c":4,"v":0},{"l":13,"c":5,"v":0},{"l":13,"c":6,"v":0},{"l":13,"c":7,"v":0},{"l":13,"c":8,"v":0},{"l":13,"c":9,"v":0},{"l":13,"c":10,"v":0},{"l":13,"c":11,"v":0},{"l":13,"c":12,"v":0},{"l":13,"c":13,"v":0},{"l":13,"c":14,"v":0},{"l":13,"c":15,"v":0},
{"l":14,"c":0,"v":0},{"l":14,"c":1,"v":0},{"l":14,"c":2,"v":0},{"l":14,"c":3,"v":0},{"l":14,"c":4,"v":1},{"l":14,"c":5,"v":1},{"l":14,"c":6,"v":1},{"l":14,"c":7,"v":0},{"l":14,"c":8,"v":0},{"l":14,"c":9,"v":1},{"l":14,"c":10,"v":0},{"l":14,"c":11,"v":0},{"l":14,"c":12,"v":0},{"l":14,"c":13,"v":0},{"l":14,"c":14,"v":0},{"l":14,"c":15,"v":0},
{"l":15,"c":0,"v":0},{"l":15,"c":1,"v":1},{"l":15,"c":2,"v":1},{"l":15,"c":3,"v":1},{"l":15,"c":4,"v":1},{"l":15,"c":5,"v":1},{"l":15,"c":6,"v":1},{"l":15,"c":7,"v":1},{"l":15,"c":8,"v":1},{"l":15,"c":9,"v":1},{"l":15,"c":10,"v":1},{"l":15,"c":11,"v":1},{"l":15,"c":12,"v":1},{"l":15,"c":13,"v":1},{"l":15,"c":14,"v":1},{"l":15,"c":15,"v":1},
{"l":16,"c":0,"v":1},{"l":16,"c":1,"v":1},{"l":16,"c":2,"v":1},{"l":16,"c":3,"v":1},{"l":16,"c":4,"v":1},{"l":16,"c":5,"v":1},{"l":16,"c":6,"v":0},{"l":16,"c":7,"v":1},{"l":16,"c":8,"v":1},{"l":16,"c":9,"v":0},{"l":16,"c":10,"v":1},{"l":16,"c":11,"v":1},{"l":16,"c":12,"v":1},{"l":16,"c":13,"v":1},{"l":16,"c":14,"v":1},{"l":16,"c":15,"v":1},
{"l":17,"c":0,"v":1},{"l":17,"c":1,"v":1},{"l":17,"c":2,"v":0},{"l":17,"c":3,"v":1},{"l":17,"c":4,"v":1},{"l":17,"c":5,"v":0},{"l":17,"c":6,"v":1},{"l":17,"c":7,"v":1},{"l":17,"c":8,"v":1},{"l":17,"c":9,"v":0},{"l":17,"c":10,"v":1},{"l":17,"c":11,"v":1},{"l":17,"c":12,"v":0},{"l":17,"c":13,"v":1},{"l":17,"c":14,"v":1},{"l":17,"c":15,"v":0},
{"l":18,"c":0,"v":1},{"l":18,"c":1,"v":1},{"l":18,"c":2,"v":0},{"l":18,"c":3,"v":1},{"l":18,"c":4,"v":1},{"l":18,"c":5,"v":1},{"l":18,"c":6,"v":1},{"l":18,"c":7,"v":1},{"l":18,"c":8,"v":1},{"l":18,"c":9,"v":1},{"l":18,"c":10,"v":1},{"l":18,"c":11,"v":0},{"l":18,"c":12,"v":1},{"l":18,"c":13,"v":0},{"l":18,"c":14,"v":1},{"l":18,"c":15,"v":1},
{"l":19,"c":0,"v":0},{"l":19,"c":1,"v":0},{"l":19,"c":2,"v":0},{"l":19,"c":3,"v":0},{"l":19,"c":4,"v":0},{"l":19,"c":5,"v":0},{"l":19,"c":6,"v":0},{"l":19,"c":7,"v":0},{"l":19,"c":8,"v":0},{"l":19,"c":9,"v":0},{"l":19,"c":10,"v":0},{"l":19,"c":11,"v":0},{"l":19,"c":12,"v":0},{"l":19,"c":13,"v":0},{"l":19,"c":14,"v":0},{"l":19,"c":15,"v":1},
{"l":20,"c":0,"v":1},{"l":20,"c":1,"v":0},{"l":20,"c":2,"v":1},{"l":20,"c":3,"v":1},{"l":20,"c":4,"v":1},{"l":20,"c":5,"v":1},{"l":20,"c":6,"v":0},{"l":20,"c":7,"v":1},{"l":20,"c":8,"v":0},{"l":20,"c":9,"v":1},{"l":20,"c":10,"v":1},{"l":20,"c":11,"v":1},{"l":20,"c":12,"v":1},{"l":20,"c":13,"v":1},{"l":20,"c":14,"v":1},{"l":20,"c":15,"v":1},
{"l":21,"c":0,"v":0},{"l":21,"c":1,"v":1},{"l":21,"c":2,"v":1},{"l":21,"c":3,"v":1},{"l":21,"c":4,"v":0},{"l":21,"c":5,"v":0},{"l":21,"c":6,"v":1},{"l":21,"c":7,"v":0},{"l":21,"c":8,"v":1},{"l":21,"c":9,"v":1},{"l":21,"c":10,"v":1},{"l":21,"c":11,"v":1},{"l":21,"c":12,"v":1},{"l":21,"c":13,"v":1},{"l":21,"c":14,"v":0},{"l":21,"c":15,"v":1},
{"l":22,"c":0,"v":0},{"l":22,"c":1,"v":0},{"l":22,"c":2,"v":0},{"l":22,"c":3,"v":0},{"l":22,"c":4,"v":0},{"l":22,"c":5,"v":0},{"l":22,"c":6,"v":0},{"l":22,"c":7,"v":0},{"l":22,"c":8,"v":0},{"l":22,"c":9,"v":0},{"l":22,"c":10,"v":0},{"l":22,"c":11,"v":0},{"l":22,"c":12,"v":0},{"l":22,"c":13,"v":0},{"l":22,"c":14,"v":0},{"l":22,"c":15,"v":0},
{"l":23,"c":0,"v":0},{"l":23,"c":1,"v":0},{"l":23,"c":2,"v":0},{"l":23,"c":3,"v":0},{"l":23,"c":4,"v":0},{"l":23,"c":5,"v":0},{"l":23,"c":6,"v":0},{"l":23,"c":7,"v":0},{"l":23,"c":8,"v":0},{"l":23,"c":9,"v":0},{"l":23,"c":10,"v":0},{"l":23,"c":11,"v":0},{"l":23,"c":12,"v":0},{"l":23,"c":13,"v":0},{"l":23,"c":14,"v":0},{"l":23,"c":15,"v":0},
{"l":24,"c":0,"v":0},{"l":24,"c":1,"v":0},{"l":24,"c":2,"v":0},{"l":24,"c":3,"v":0},{"l":24,"c":4,"v":0},{"l":24,"c":5,"v":0},{"l":24,"c":6,"v":0},{"l":24,"c":7,"v":0},{"l":24,"c":8,"v":0},{"l":24,"c":9,"v":0},{"l":24,"c":10,"v":0},{"l":24,"c":11,"v":0},{"l":24,"c":12,"v":0},{"l":24,"c":13,"v":0},{"l":24,"c":14,"v":0},{"l":24,"c":15,"v":0},
{"l":25,"c":0,"v":0},{"l":25,"c":1,"v":0},{"l":25,"c":2,"v":0},{"l":25,"c":3,"v":0},{"l":25,"c":4,"v":0},{"l":25,"c":5,"v":0},{"l":25,"c":6,"v":0},{"l":25,"c":7,"v":0},{"l":25,"c":8,"v":0},{"l":25,"c":9,"v":0},{"l":25,"c":10,"v":0},{"l":25,"c":11,"v":0},{"l":25,"c":12,"v":0},{"l":25,"c":13,"v":0},{"l":25,"c":14,"v":0},{"l":25,"c":15,"v":0},
{"l":26,"c":0,"v":0},{"l":26,"c":1,"v":0},{"l":26,"c":2,"v":0},{"l":26,"c":3,"v":0},{"l":26,"c":4,"v":0},{"l":26,"c":5,"v":0},{"l":26,"c":6,"v":0},{"l":26,"c":7,"v":0},{"l":26,"c":8,"v":0},{"l":26,"c":9,"v":0},{"l":26,"c":10,"v":0},{"l":26,"c":11,"v":0},{"l":26,"c":12,"v":0},{"l":26,"c":13,"v":0},{"l":26,"c":14,"v":0},{"l":26,"c":15,"v":0},
{"l":27,"c":0,"v":0},{"l":27,"c":1,"v":0},{"l":27,"c":2,"v":0},{"l":27,"c":3,"v":0},{"l":27,"c":4,"v":0},{"l":27,"c":5,"v":0},{"l":27,"c":6,"v":0},{"l":27,"c":7,"v":0},{"l":27,"c":8,"v":0},{"l":27,"c":9,"v":0},{"l":27,"c":10,"v":0},{"l":27,"c":11,"v":0},{"l":27,"c":12,"v":0},{"l":27,"c":13,"v":0},{"l":27,"c":14,"v":0},{"l":27,"c":15,"v":0},
{"l":28,"c":0,"v":0},{"l":28,"c":1,"v":0},{"l":28,"c":2,"v":0},{"l":28,"c":3,"v":0},{"l":28,"c":4,"v":0},{"l":28,"c":5,"v":0},{"l":28,"c":6,"v":0},{"l":28,"c":7,"v":0},{"l":28,"c":8,"v":0},{"l":28,"c":9,"v":0},{"l":28,"c":10,"v":0},{"l":28,"c":11,"v":0},{"l":28,"c":12,"v":0},{"l":28,"c":13,"v":0},{"l":28,"c":14,"v":0},{"l":28,"c":15,"v":0},
{"l":29,"c":0,"v":0},{"l":29,"c":1,"v":0},{"l":29,"c":2,"v":0},{"l":29,"c":3,"v":0},{"l":29,"c":4,"v":0},{"l":29,"c":5,"v":0},{"l":29,"c":6,"v":0},{"l":29,"c":7,"v":0},{"l":29,"c":8,"v":0},{"l":29,"c":9,"v":0},{"l":29,"c":10,"v":0},{"l":29,"c":11,"v":0},{"l":29,"c":12,"v":0},{"l":29,"c":13,"v":0},{"l":29,"c":14,"v":0},{"l":29,"c":15,"v":0},
{"l":30,"c":0,"v":0},{"l":30,"c":1,"v":0},{"l":30,"c":2,"v":0},{"l":30,"c":3,"v":0},{"l":30,"c":4,"v":0},{"l":30,"c":5,"v":0},{"l":30,"c":6,"v":0},{"l":30,"c":7,"v":0},{"l":30,"c":8,"v":0},{"l":30,"c":9,"v":0},{"l":30,"c":10,"v":0},{"l":30,"c":11,"v":0},{"l":30,"c":12,"v":0},{"l":30,"c":13,"v":0},{"l":30,"c":14,"v":0},{"l":30,"c":15,"v":0},
{"l":31,"c":0,"v":0},{"l":31,"c":1,"v":0},{"l":31,"c":2,"v":0},{"l":31,"c":3,"v":0},{"l":31,"c":4,"v":0},{"l":31,"c":5,"v":0},{"l":31,"c":6,"v":0},{"l":31,"c":7,"v":0},{"l":31,"c":8,"v":0},{"l":31,"c":9,"v":0},{"l":31,"c":10,"v":0},{"l":31,"c":11,"v":0},{"l":31,"c":12,"v":0},{"l":31,"c":13,"v":0},{"l":31,"c":14,"v":0},{"l":31,"c":15,"v":0},
{"l":32,"c":0,"v":0},{"l":32,"c":1,"v":0},{"l":32,"c":2,"v":0},{"l":32,"c":3,"v":0},{"l":32,"c":4,"v":0},{"l":32,"c":5,"v":0},{"l":32,"c":6,"v":0},{"l":32,"c":7,"v":0},{"l":32,"c":8,"v":0},{"l":32,"c":9,"v":0},{"l":32,"c":10,"v":0},{"l":32,"c":11,"v":0},{"l":32,"c":12,"v":0},{"l":32,"c":13,"v":0},{"l":32,"c":14,"v":0},{"l":32,"c":15,"v":0},
{"l":33,"c":0,"v":0},{"l":33,"c":1,"v":0},{"l":33,"c":2,"v":0},{"l":33,"c":3,"v":0},{"l":33,"c":4,"v":0},{"l":33,"c":5,"v":0},{"l":33,"c":6,"v":0},{"l":33,"c":7,"v":0},{"l":33,"c":8,"v":0},{"l":33,"c":9,"v":0},{"l":33,"c":10,"v":0},{"l":33,"c":11,"v":0},{"l":33,"c":12,"v":0},{"l":33,"c":13,"v":0},{"l":33,"c":14,"v":0},{"l":33,"c":15,"v":0},
{"l":34,"c":0,"v":0},{"l":34,"c":1,"v":0},{"l":34,"c":2,"v":0},{"l":34,"c":3,"v":0},{"l":34,"c":4,"v":0},{"l":34,"c":5,"v":0},{"l":34,"c":6,"v":0},{"l":34,"c":7,"v":0},{"l":34,"c":8,"v":0},{"l":34,"c":9,"v":0},{"l":34,"c":10,"v":0},{"l":34,"c":11,"v":0},{"l":34,"c":12,"v":0},{"l":34,"c":13,"v":0},{"l":34,"c":14,"v":0},{"l":34,"c":15,"v":0},
{"l":35,"c":0,"v":0},{"l":35,"c":1,"v":0},{"l":35,"c":2,"v":0},{"l":35,"c":3,"v":0},{"l":35,"c":4,"v":0},{"l":35,"c":5,"v":0},{"l":35,"c":6,"v":0},{"l":35,"c":7,"v":0},{"l":35,"c":8,"v":0},{"l":35,"c":9,"v":0},{"l":35,"c":10,"v":0},{"l":35,"c":11,"v":0},{"l":35,"c":12,"v":0},{"l":35,"c":13,"v":0},{"l":35,"c":14,"v":0},{"l":35,"c":15,"v":0}
],
"qa": [
{"l":0,"c":0,"v":0},{"l":0,"c":1,"v":0},{"l":0,"c":2,"v":0},{"l":0,"c":3,"v":0},{"l":0,"c":4,"v":0},{"l":0,"c":5,"v":0},{"l":0,"c":6,"v":0},{"l":0,"c":7,"v":0},{"l":0,"c":8,"v":0},{"l":0,"c":9,"v":0},{"l":0,"c":10,"v":0},{"l":0,"c":11,"v":0},{"l":0,"c":12,"v":0},{"l":0,"c":13,"v":0},{"l":0,"c":14,"v":0},{"l":0,"c":15,"v":0},
{"l":1,"c":0,"v":0},{"l":1,"c":1,"v":0},{"l":1,"c":2,"v":0},{"l":1,"c":3,"v":0},{"l":1,"c":4,"v":0},{"l":1,"c":5,"v":0},{"l":1,"c":6,"v":0},{"l":1,"c":7,"v":0},{"l":1,"c":8,"v":0},{"l":1,"c":9,"v":0},{"l":1,"c":10,"v":0},{"l":1,"c":11,"v":0},{"l":1,"c":12,"v":0},{"l":1,"c":13,"v":0},{"l":1,"c":14,"v":0},{"l":1,"c":15,"v":0},
{"l":2,"c":0,"v":1},{"l":2,"c":1,"v":0},{"l":2,"c":2,"v":1},{"l":2,"c":3,"v":1},{"l":2,"c":4,"v":1},{"l":2,"c":5,"v":1},{"l":2,"c":6,"v":0},{"l":2,"c":7,"v":1},{"l":2,"c":8,"v":1},{"l":2,"c":9,"v":1},{"l":2,"c":10,"v":1},{"l":2,"c":11,"v":1},{"l":2,"c":12,"v":1},{"l":2,"c":13,"v":1},{"l":2,"c":14,"v":0},{"l":2,"c":15,"v":0},
{"l":3,"c":0,"v":1},{"l":3,"c":1,"v":1},{"l":3,"c":2,"v":1},{"l":3,"c":3,"v":1},{"l":3,"c":4,"v":1},{"l":3,"c":5,"v":1},{"l":3,"c":6,"v":1},{"l":3,"c":7,"v":1},{"l":3,"c":8,"v":1},{"l":3,"c":9,"v":0},{"l":3,"c":10,"v":1},{"l":3,"c":11,"v":0},{"l":3,"c":12,"v":1},{"l":3,"c":13,"v":0},{"l":3,"c":14,"v":1},{"l":3,"c":15,"v":1},
{"l":4,"c":0,"v":0},{"l":4,"c":1,"v":1},{"l":4,"c":2,"v":0},{"l":4,"c":3,"v":0},{"l":4,"c":4,"v":0},{"l":4,"c":5,"v":0},{"l":4,"c":6,"v":1},{"l":4,"c":7,"v":0},{"l":4,"c":8,"v":0},{"l":4,"c":9,"v":1},{"l":4,"c":10,"v":0},{"l":4,"c":11,"v":1},{"l":4,"c":12,"v":0},{"l":4,"c":13,"v":1},{"l":4,"c":14,"v":0},{"l":4,"c":15,"v":0},
{"l":5,"c":0,"v":0},{"l":5,"c":1,"v":0},{"l":5,"c":2,"v":0},{"l":5,"c":3,"v":0},{"l":5,"c":4,"v":0},{"l":5,"c":5,"v":0},{"l":5,"c":6,"v":0},{"l":5,"c":7,"v":0},{"l":5,"c":8,"v":0},{"l":5,"c":9,"v":0},{"l":5,"c":10,"v":0},{"l":5,"c":11,"v":0},{"l":5,"c":12,"v":0},{"l":5,"c":13,"v":0},{"l":5,"c":14,"v":0},{"l":5,"c":15,"v":0},
{"l":6,"c":0,"v":0},{"l":6,"c":1,"v":0},{"l":6,"c":2,"v":0},{"l":6,"c":3,"v":0},{"l":6,"c":4,"v":0},{"l":6,"c":5,"v":0},{"l":6,"c":6,"v":0},{"l":6,"c":7,"v":0},{"l":6,"c":8,"v":0},{"l":6,"c":9,"v":0},{"l":6,"c":10,"v":0},{"l":6,"c":11,"v":0},{"l":6,"c":12,"v":0},{"l":6,"c":13,"v":0},{"l":6,"c":14,"v":0},{"l":6,"c":15,"v":0},
{"l":7,"c":0,"v":0},{"l":7,"c":1,"v":0},{"l":7,"c":2,"v":0},{"l":7,"c":3,"v":0},{"l":7,"c":4,"v":0},{"l":7,"c":5,"v":0},{"l":7,"c":6,"v":0},{"l":7,"c":7,"v":0},{"l":7,"c":8,"v":0},{"l":7,"c":9,"v":0},{"l":7,"c":10,"v":0},{"l":7,"c":11,"v":0},{"l":7,"c":12,"v":0},{"l":7,"c":13,"v":0},{"l":7,"c":14,"v":0},{"l":7,"c":15,"v":0},
{"l":8,"c":0,"v":1},{"l":8,"c":1,"v":0},{"l":8,"c":2,"v":1},{"l":8,"c":3,"v":0},{"l":8,"c":4,"v":0},{"l":8,"c":5,"v":1},{"l":8,"c":6,"v":0},{"l":8,"c":7,"v":0},{"l":8,"c":8,"v":0},{"l":8,"c":9,"v":1},{"l":8,"c":10,"v":0},{"l":8,"c":11,"v":0},{"l":8,"c":12,"v":0},{"l":8,"c":13,"v":0},{"l":8,"c":14,"v":1},{"l":8,"c":15,"v":0},
{"l":9,"c":0,"v":0},{"l":9,"c":1,"v":0},{"l":9,"c":2,"v":0},{"l":9,"c":3,"v":0},{"l":9,"c":4,"v":0},{"l":9,"c":5,"v":0},{"l":9,"c":6,"v":0},{"l":9,"c":7,"v":0},{"l":9,"c":8,"v":0},{"l":9,"c":9,"v":0},{"l":9,"c":10,"v":0},{"l":9,"c":11,"v":0},{"l":9,"c":12,"v":0},{"l":9,"c":13,"v":0},{"l":9,"c":14,"v":0},{"l":9,"c":15,"v":0},
{"l":10,"c":0,"v":1},{"l":10,"c":1,"v":1},{"l":10,"c":2,"v":1},{"l":10,"c":3,"v":1},{"l":10,"c":4,"v":1},{"l":10,"c":5,"v":1},{"l":10,"c":6,"v":1},{"l":10,"c":7,"v":1},{"l":10,"c":8,"v":1},{"l":10,"c":9,"v":1},{"l":10,"c":10,"v":1},{"l":10,"c":11,"v":1},{"l":10,"c":12,"v":1},{"l":10,"c":13,"v":1},{"l":10,"c":14,"v":1},{"l":10,"c":15,"v":1},
{"l":11,"c":0,"v":0},{"l":11,"c":1,"v":0},{"l":11,"c":2,"v":0},{"l":11,"c":3,"v":0},{"l":11,"c":4,"v":0},{"l":11,"c":5,"v":0},{"l":11,"c":6,"v":0},{"l":11,"c":7,"v":0},{"l":11,"c":8,"v":0},{"l":11,"c":9,"v":0},{"l":11,"c":10,"v":0},{"l":11,"c":11,"v":0},{"l":11,"c":12,"v":0},{"l":11,"c":13,"v":0},{"l":11,"c":14,"v":0},{"l":11,"c":15,"v":0},
{"l":12,"c":0,"v":0},{"l":12,"c":1,"v":0},{"l":12,"c":2,"v":0},{"l":12,"c":3,"v":0},{"l":12,"c":4,"v":0},{"l":12,"c":5,"v":0},{"l":12,"c":6,"v":0},{"l":12,"c":7,"v":0},{"l":12,"c":8,"v":0},{"l":12,"c":9,"v":0},{"l":12,"c":10,"v":0},{"l":12,"c":11,"v":0},{"l":12,"c":12,"v":0},{"l":12,"c":13,"v":0},{"l":12,"c":14,"v":0},{"l":12,"c":15,"v":0},
{"l":13,"c":0,"v":0},{"l":13,"c":1,"v":0},{"l":13,"c":2,"v":0},{"l":13,"c":3,"v":0},{"l":13,"c":4,"v":0},{"l":13,"c":5,"v":0},{"l":13,"c":6,"v":0},{"l":13,"c":7,"v":0},{"l":13,"c":8,"v":0},{"l":13,"c":9,"v":0},{"l":13,"c":10,"v":0},{"l":13,"c":11,"v":0},{"l":13,"c":12,"v":0},{"l":13,"c":13,"v":0},{"l":13,"c":14,"v":0},{"l":13,"c":15,"v":0},
{"l":14,"c":0,"v":0},{"l":14,"c":1,"v":0},{"l":14,"c":2,"v":0},{"l":14,"c":3,"v":0},{"l":14,"c":4,"v":0},{"l":14,"c":5,"v":0},{"l":14,"c":6,"v":0},{"l":14,"c":7,"v":0},{"l":14,"c":8,"v":0},{"l":14,"c":9,"v":0},{"l":14,"c":10,"v":0},{"l":14,"c":11,"v":0},{"l":14,"c":12,"v":0},{"l":14,"c":13,"v":0},{"l":14,"c":14,"v":0},{"l":14,"c":15,"v":0},
{"l":15,"c":0,"v":0},{"l":15,"c":1,"v":0},{"l":15,"c":2,"v":0},{"l":15,"c":3,"v":0},{"l":15,"c":4,"v":0},{"l":15,"c":5,"v":1},{"l":15,"c":6,"v":1},{"l":15,"c":7,"v":0},{"l":15,"c":8,"v":0},{"l":15,"c":9,"v":0},{"l":15,"c":10,"v":0},{"l":15,"c":11,"v":0},{"l":15,"c":12,"v":0},{"l":15,"c":13,"v":1},{"l":15,"c":14,"v":0},{"l":15,"c":15,"v":0},
{"l":16,"c":0,"v":1},{"l":16,"c":1,"v":1},{"l":16,"c":2,"v":1},{"l":16,"c":3,"v":1},{"l":16,"c":4,"v":1},{"l":16,"c":5,"v":1},{"l":16,"c":6,"v":1},{"l":16,"c":7,"v":1},{"l":16,"c":8,"v":0},{"l":16,"c":9,"v":1},{"l":16,"c":10,"v":1},{"l":16,"c":11,"v":1},{"l":16,"c":12,"v":1},{"l":16,"c":13,"v":0},{"l":16,"c":14,"v":1},{"l":16,"c":15,"v":1},
{"l":17,"c":0,"v":0},{"l":17,"c":1,"v":1},{"l":17,"c":2,"v":0},{"l":17,"c":3,"v":0},{"l":17,"c":4,"v":0},{"l":17,"c":5,"v":0},{"l":17,"c":6,"v":0},{"l":17,"c":7,"v":0},{"l":17,"c":8,"v":1},{"l":17,"c":9,"v":0},{"l":17,"c":10,"v":0},{"l":17,"c":11,"v":0},{"l":17,"c":12,"v":0},{"l":17,"c":13,"v":0},{"l":17,"c":14,"v":0},{"l":17,"c":15,"v":0},
{"l":18,"c":0,"v":1},{"l":18,"c":1,"v":0},{"l":18,"c":2,"v":0},{"l":18,"c":3,"v":1},{"l":18,"c":4,"v":1},{"l":18,"c":5,"v":1},{"l":18,"c":6,"v":1},{"l":18,"c":7,"v":1},{"l":18,"c":8,"v":0},{"l":18,"c":9,"v":1},{"l":18,"c":10,"v":1},{"l":18,"c":11,"v":1},{"l":18,"c":12,"v":0},{"l":18,"c":13,"v":1},{"l":18,"c":14,"v":1},{"l":18,"c":15,"v":0},
{"l":19,"c":0,"v":0},{"l":19,"c":1,"v":0},{"l":19,"c":2,"v":0},{"l":19,"c":3,"v":0},{"l":19,"c":4,"v":0},{"l":19,"c":5,"v":0},{"l":19,"c":6,"v":0},{"l":19,"c":7,"v":0},{"l":19,"c":8,"v":1},{"l":19,"c":9,"v":0},{"l":19,"c":10,"v":0},{"l":19,"c":11,"v":0},{"l":19,"c":12,"v":1},{"l":19,"c":13,"v":0},{"l":19,"c":14,"v":0},{"l":19,"c":15,"v":1},
{"l":20,"c":0,"v":0},{"l":20,"c":1,"v":0},{"l":20,"c":2,"v":0},{"l":20,"c":3,"v":0},{"l":20,"c":4,"v":0},{"l":20,"c":5,"v":0},{"l":20,"c":6,"v":0},{"l":20,"c":7,"v":1},{"l":20,"c":8,"v":0},{"l":20,"c":9,"v":0},{"l":20,"c":10,"v":0},{"l":20,"c":11,"v":1},{"l":20,"c":12,"v":0},{"l":20,"c":13,"v":1},{"l":20,"c":14,"v":1},{"l":20,"c":15,"v":0},
{"l":21,"c":0,"v":1},{"l":21,"c":1,"v":1},{"l":21,"c":2,"v":1},{"l":21,"c":3,"v":1},{"l":21,"c":4,"v":1},{"l":21,"c":5,"v":1},{"l":21,"c":6,"v":1},{"l":21,"c":7,"v":1},{"l":21,"c":8,"v":1},{"l":21,"c":9,"v":1},{"l":21,"c":10,"v":1},{"l":21,"c":11,"v":1},{"l":21,"c":12,"v":1},{"l":21,"c":13,"v":1},{"l":21,"c":14,"v":1},{"l":21,"c":15,"v":1},
{"l":22,"c":0,"v":0},{"l":22,"c":1,"v":0},{"l":22,"c":2,"v":0},{"l":22,"c":3,"v":0},{"l":22,"c":4,"v":0},{"l":22,"c":5,"v":0},{"l":22,"c":6,"v":0},{"l":22,"c":7,"v":1},{"l":22,"c":8,"v":0},{"l":22,"c":9,"v":0},{"l":22,"c":10,"v":0},{"l":22,"c":11,"v":0},{"l":22,"c":12,"v":0},{"l":22,"c":13,"v":0},{"l":22,"c":14,"v":0},{"l":22,"c":15,"v":0},
{"l":23,"c":0,"v":0},{"l":23,"c":1,"v":0},{"l":23,"c":2,"v":0},{"l":23,"c":3,"v":0},{"l":23,"c":4,"v":0},{"l":23,"c":5,"v":0},{"l":23,"c":6,"v":0},{"l":23,"c":7,"v":0},{"l":23,"c":8,"v":0},{"l":23,"c":9,"v":0},{"l":23,"c":10,"v":0},{"l":23,"c":11,"v":0},{"l":23,"c":12,"v":0},{"l":23,"c":13,"v":0},{"l":23,"c":14,"v":0},{"l":23,"c":15,"v":0},
{"l":24,"c":0,"v":0},{"l":24,"c":1,"v":0},{"l":24,"c":2,"v":0},{"l":24,"c":3,"v":0},{"l":24,"c":4,"v":0},{"l":24,"c":5,"v":0},{"l":24,"c":6,"v":0},{"l":24,"c":7,"v":0},{"l":24,"c":8,"v":0},{"l":24,"c":9,"v":0},{"l":24,"c":10,"v":0},{"l":24,"c":11,"v":0},{"l":24,"c":12,"v":0},{"l":24,"c":13,"v":0},{"l":24,"c":14,"v":0},{"l":24,"c":15,"v":0},
{"l":25,"c":0,"v":1},{"l":25,"c":1,"v":1},{"l":25,"c":2,"v":1},{"l":25,"c":3,"v":1},{"l":25,"c":4,"v":1},{"l":25,"c":5,"v":1},{"l":25,"c":6,"v":0},{"l":25,"c":7,"v":1},{"l":25,"c":8,"v":1},{"l":25,"c":9,"v":1},{"l":25,"c":10,"v":1},{"l":25,"c":11,"v":1},{"l":25,"c":12,"v":1},{"l":25,"c":13,"v":1},{"l":25,"c":14,"v":1},{"l":25,"c":15,"v":1},
{"l":26,"c":0,"v":1},{"l":26,"c":1,"v":1},{"l":26,"c":2,"v":1},{"l":26,"c":3,"v":1},{"l":26,"c":4,"v":1},{"l":26,"c":5,"v":0},{"l":26,"c":6,"v":1},{"l":26,"c":7,"v":0},{"l":26,"c":8,"v":0},{"l":26,"c":9,"v":1},{"l":26,"c":10,"v":0},{"l":26,"c":11,"v":0},{"l":26,"c":12,"v":0},{"l":26,"c":13,"v":0},{"l":26,"c":14,"v":0},{"l":26,"c":15,"v":0},
{"l":27,"c":0,"v":0},{"l":27,"c":1,"v":0},{"l":27,"c":2,"v":0},{"l":27,"c":3,"v":0},{"l":27,"c":4,"v":0},{"l":27,"c":5,"v":0},{"l":27,"c":6,"v":0},{"l":27,"c":7,"v":0},{"l":27,"c":8,"v":1},{"l":27,"c":9,"v":0},{"l":27,"c":10,"v":0},{"l":27,"c":11,"v":0},{"l":27,"c":12,"v":0},{"l":27,"c":13,"v":0},{"l":27,"c":14,"v":0},{"l":27,"c":15,"v":0},
{"l":28,"c":0,"v":0},{"l":28,"c":1,"v":1},{"l":28,"c":2,"v":1},{"l":28,"c":3,"v":0},{"l":28,"c":4,"v":1},{"l":28,"c":5,"v":0},{"l":28,"c":6,"v":0},{"l":28,"c":7,"v":0},{"l":28,"c":8,"v":1},{"l":28,"c":9,"v":0},{"l":28,"c":10,"v":0},{"l":28,"c":11,"v":1},{"l":28,"c":12,"v":1},{"l":28,"c":13,"v":0},{"l":28,"c":14,"v":1},{"l":28,"c":15,"v":1},
{"l":29,"c":0,"v":0},{"l":29,"c":1,"v":0},{"l":29,"c":2,"v":0},{"l":29,"c":3,"v":0},{"l":29,"c":4,"v":0},{"l":29,"c":5,"v":0},{"l":29,"c":6,"v":1},{"l":29,"c":7,"v":0},{"l":29,"c":8,"v":0},{"l":29,"c":9,"v":0},{"l":29,"c":10,"v":0},{"l":29,"c":11,"v":0},{"l":29,"c":12,"v":0},{"l":29,"c":13,"v":0},{"l":29,"c":14,"v":0},{"l":29,"c":15,"v":0},
{"l":30,"c":0,"v":0},{"l":30,"c":1,"v":0},{"l":30,"c":2,"v":0},{"l":30,"c":3,"v":0},{"l":30,"c":4,"v":0},{"l":30,"c":5,"v":0},{"l":30,"c":6,"v":0},{"l":30,"c":7,"v":0},{"l":30,"c":8,"v":0},{"l":30,"c":9,"v":0},{"l":30,"c":10,"v":0},{"l":30,"c":11,"v":0},{"l":30,"c":12,"v":0},{"l":30,"c":13,"v":0},{"l":30,"c":14,"v":0},{"l":30,"c":15,"v":0},
{"l":31,"c":0,"v":1},{"l":31,"c":1,"v":1},{"l":31,"c":2,"v":1},{"l":31,"c":3,"v":1},{"l":31,"c":4,"v":0},{"l":31,"c":5,"v":1},{"l":31,"c":6,"v":1},{"l":31,"c":7,"v":1},{"l":31,"c":8,"v":1},{"l":31,"c":9,"v":1},{"l":31,"c":10,"v":1},{"l":31,"c":11,"v":1},{"l":31,"c":12,"v":1},{"l":31,"c":13,"v":1},{"l":31,"c":14,"v":1},{"l":31,"c":15,"v":1},
{"l":32,"c":0,"v":1},{"l":32,"c":1,"v":1},{"l":32,"c":2,"v":1},{"l":32,"c":3,"v":1},{"l":32,"c":4,"v":1},{"l":32,"c":5,"v":1},{"l":32,"c":6,"v":1},{"l":32,"c":7,"v":1},{"l":32,"c":8,"v":1},{"l":32,"c":9,"v":1},{"l":32,"c":10,"v":1},{"l":32,"c":11,"v":0},{"l":32,"c":12,"v":1},{"l":32,"c":13,"v":1},{"l":32,"c":14,"v":1},{"l":32,"c":15,"v":1},
{"l":33,"c":0,"v":1},{"l":33,"c":1,"v":1},{"l":33,"c":2,"v":1},{"l":33,"c":3,"v":1},{"l":33,"c":4,"v":0},{"l":33,"c":5,"v":0},{"l":33,"c":6,"v":0},{"l":33,"c":7,"v":0},{"l":33,"c":8,"v":1},{"l":33,"c":9,"v":1},{"l":33,"c":10,"v":1},{"l":33,"c":11,"v":1},{"l":33,"c":12,"v":1},{"l":33,"c":13,"v":1},{"l":33,"c":14,"v":0},{"l":33,"c":15,"v":1},
{"l":34,"c":0,"v":0},{"l":34,"c":1,"v":0},{"l":34,"c":2,"v":0},{"l":34,"c":3,"v":0},{"l":34,"c":4,"v":1},{"l":34,"c":5,"v":1},{"l":34,"c":6,"v":0},{"l":34,"c":7,"v":1},{"l":34,"c":8,"v":0},{"l":34,"c":9,"v":0},{"l":34,"c":10,"v":0},{"l":34,"c":11,"v":1},{"l":34,"c":12,"v":0},{"l":34,"c":13,"v":1},{"l":34,"c":14,"v":1},{"l":34,"c":15,"v":0},
{"l":35,"c":0,"v":1},{"l":35,"c":1,"v":0},{"l":35,"c":2,"v":1},{"l":35,"c":3,"v":1},{"l":35,"c":4,"v":0},{"l":35,"c":5,"v":0},{"l":35,"c":6,"v":1},{"l":35,"c":7,"v":0},{"l":35,"c":8,"v":0},{"l":35,"c":9,"v":1},{"l":35,"c":10,"v":1},{"l":35,"c":11,"v":0},{"l":35,"c":12,"v":1},{"l":35,"c":13,"v":0},{"l":35,"c":14,"v":0},{"l":35,"c":15,"v":1}
]
},
"spacing": 4,
"hconcat": [
{
"title": {"text": "Llama-3-8B", "orient": "bottom", "anchor": "middle", "frame": "bounds", "fontSize": 14, "font": "Liberation Sans Narrow, DejaVu Sans Condensed, DejaVu Sans", "color": "#111111", "offset": 10, "dx": 19},
"spacing": 6,
"vconcat": [
{"data": {"name": "lm"}, "title": "MLP Masks Across Clusters", "width": 400, "height": 144, "mark": {"type": "rect", "strokeWidth": 0.4},
"encoding": {"x": {"field": "l", "type": "ordinal", "title": "Layer", "scale": {"paddingInner": 0, "paddingOuter": 0}},
"y": {"field": "c", "type": "ordinal", "title": "Cluster", "scale": {"paddingInner": 0, "paddingOuter": 0}},
"color": {"field": "v", "type": "nominal", "scale": {"domain": [0, 1], "range": ["#081d58", "#ffffd9"]}, "legend": null},
"stroke": {"field": "v", "type": "nominal", "scale": {"domain": [0, 1], "range": ["#081d58", "#ffffd9"]}, "legend": null}}},
{"data": {"name": "la"}, "title": "Attention Masks Across Clusters", "width": 400, "height": 144, "mark": {"type": "rect", "strokeWidth": 0.4},
"encoding": {"x": {"field": "l", "type": "ordinal", "title": "Layer", "scale": {"paddingInner": 0, "paddingOuter": 0}},
"y": {"field": "c", "type": "ordinal", "title": "Cluster", "scale": {"paddingInner": 0, "paddingOuter": 0}},
"color": {"field": "v", "type": "nominal", "scale": {"domain": [0, 1], "range": ["#081d58", "#ffffd9"]}, "legend": null},
"stroke": {"field": "v", "type": "nominal", "scale": {"domain": [0, 1], "range": ["#081d58", "#ffffd9"]}, "legend": null}}}
]
},
{
"title": {"text": "Qwen-3-8B", "orient": "bottom", "anchor": "middle", "frame": "bounds", "fontSize": 14, "font": "Liberation Sans Narrow, DejaVu Sans Condensed, DejaVu Sans", "color": "#111111", "offset": 10, "dx": 7},
"spacing": 6,
"vconcat": [
{"data": {"name": "qm"}, "title": "MLP Masks Across Clusters", "width": 400, "height": 144, "mark": {"type": "rect", "strokeWidth": 0.4},
"encoding": {"x": {"field": "l", "type": "ordinal", "title": "Layer", "scale": {"paddingInner": 0, "paddingOuter": 0}},
"y": {"field": "c", "type": "ordinal", "title": "Cluster", "scale": {"paddingInner": 0, "paddingOuter": 0}},
"color": {"field": "v", "type": "nominal", "scale": {"domain": [0, 1], "range": ["#081d58", "#ffffd9"]}, "legend": null},
"stroke": {"field": "v", "type": "nominal", "scale": {"domain": [0, 1], "range": ["#081d58", "#ffffd9"]}, "legend": null}}},
{"data": {"name": "qa"}, "title": "Attention Masks Across Clusters", "width": 400, "height": 144, "mark": {"type": "rect", "strokeWidth": 0.4},
"encoding": {"x": {"field": "l", "type": "ordinal", "title": "Layer", "scale": {"paddingInner": 0, "paddingOuter": 0}},
"y": {"field": "c", "type": "ordinal", "title": "Cluster", "scale": {"paddingInner": 0, "paddingOuter": 0}},
"color": {"field": "v", "type": "nominal", "scale": {"domain": [0, 1], "range": ["#081d58", "#ffffd9"]}, "legend": null},
"stroke": {"field": "v", "type": "nominal", "scale": {"domain": [0, 1], "range": ["#081d58", "#ffffd9"]}, "legend": null}}}
]
}
]
}
